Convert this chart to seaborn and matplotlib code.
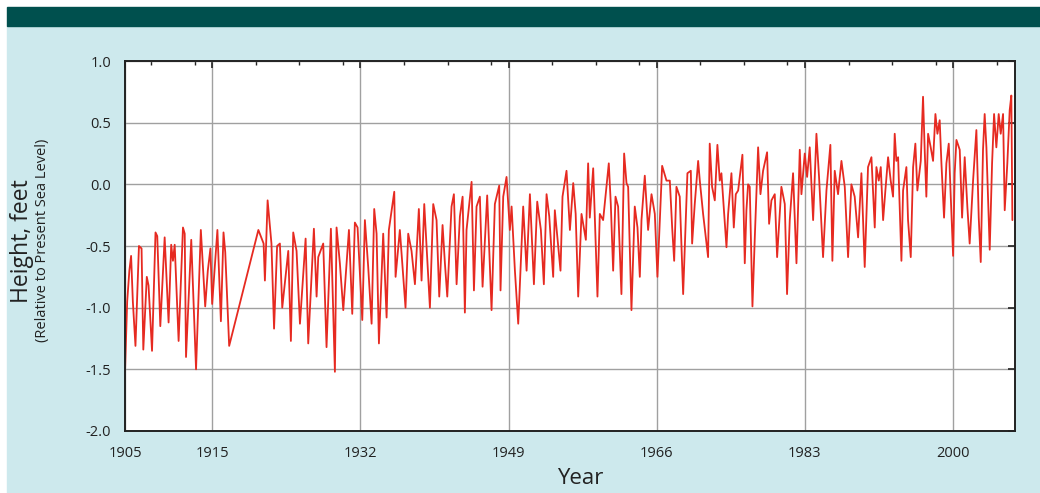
import pandas as pd
import matplotlib.pyplot as plt
import matplotlib.patches as mpatches
import seaborn as sns

# sea level readings (year, feet relative to present)
years = [
    1905.0, 1905.25, 1905.5, 1905.7, 1905.9, 1906.2, 1906.6, 1906.9, 1907.1, 1907.5,
    1907.7, 1908.1, 1908.5, 1908.7, 1909.05, 1909.55, 1910.0, 1910.3, 1910.5, 1910.7,
    1911.15, 1911.65, 1911.85, 1912.0, 1912.6, 1913.15, 1913.7, 1914.2, 1914.5, 1914.8,
    1915.0, 1915.6, 1916.0, 1916.3, 1916.5, 1916.95,
    1920.3, 1920.9, 1921.05, 1921.36, 1921.8, 1922.1, 1922.45,
    1922.77, 1923.04, 1923.73, 1924.03, 1924.3, 1924.68, 1925.07, 1925.72, 1926.02, 1926.67,
    1926.98, 1927.17, 1927.74, 1928.12, 1928.62, 1929.08, 1929.27, 1929.65, 1930.04, 1930.69,
    1931.07, 1931.37, 1931.68, 1932.22, 1932.52, 1932.9, 1933.29, 1933.59, 1933.86, 1934.13,
    1934.62, 1935.01, 1935.27, 1935.89, 1936.04, 1936.53, 1937.18, 1937.49, 1937.87, 1938.26,
    1938.71, 1939.02, 1939.33, 1939.98, 1940.36,
    1940.74, 1941.05, 1941.43, 1941.7, 1941.97, 1942.46, 1942.73, 1943.04, 1943.42, 1943.73,
    1943.99, 1944.18, 1944.76, 1945.03, 1945.33, 1945.71, 1946.02, 1946.55, 1947.05, 1947.43,
    1947.93, 1948.08, 1948.39, 1948.77, 1949.15, 1949.35, 1949.73, 1950.11, 1950.68, 1951.07,
    1951.45, 1951.91, 1952.29, 1952.71, 1953.05, 1953.36, 1953.67, 1954.12, 1954.31, 1954.96,
    1955.19, 1955.65, 1956.04, 1956.42, 1956.7, 1956.99, 1957.37, 1957.87,
    1958.13, 1958.32, 1958.71, 1959.2, 1959.47, 1959.85, 1960.12, 1960.5, 1960.73, 1961.0,
    1961.27, 1961.57, 1961.95, 1962.26, 1962.53, 1962.72, 1963.1, 1963.48, 1963.79, 1964.06,
    1964.25, 1964.63, 1965.01, 1965.4, 1965.78, 1966.08, 1966.35, 1966.62, 1967.12, 1967.5,
    1967.77, 1968.0, 1968.26, 1968.64, 1969.03, 1969.52, 1969.91, 1970.06, 1970.36, 1970.75,
    1970.94, 1971.32, 1971.89, 1972.08, 1972.35, 1972.66, 1972.96, 1973.23, 1973.42, 1974.0,
    1974.19, 1974.57,
    1974.84, 1975.07, 1975.34, 1975.83, 1976.1, 1976.29, 1976.48, 1976.67, 1976.98, 1977.25,
    1977.63, 1977.9, 1978.2, 1978.66, 1978.89, 1979.16, 1979.54, 1979.81, 1980.3, 1980.69,
    1980.95, 1981.26, 1981.64, 1982.03, 1982.41, 1982.6, 1982.98, 1983.25, 1983.55, 1983.94,
    1984.32, 1984.62, 1985.08, 1985.47, 1985.92, 1986.15, 1986.42, 1986.8, 1987.19, 1987.57,
    1987.95, 1988.33, 1988.71, 1989.1, 1989.48, 1989.86, 1990.24, 1990.63, 1991.01,
    1991.2, 1991.47, 1991.7, 1991.97, 1992.23, 1992.54, 1992.84, 1993.11, 1993.3, 1993.49,
    1993.69, 1994.07, 1994.26, 1994.64, 1994.83, 1995.14, 1995.41, 1995.67, 1995.9, 1996.29,
    1996.55, 1996.74, 1996.93, 1997.13, 1997.43, 1997.7, 1997.97, 1998.2, 1998.46, 1998.66,
    1998.96, 1999.23, 1999.5, 1999.73, 2000.0, 2000.18, 2000.38, 2000.76, 2001.03, 2001.33,
    2001.64, 2001.9, 2002.29, 2002.67, 2002.94, 2003.17, 2003.43, 2003.62, 2003.82, 2004.2,
    2004.47, 2004.7, 2004.96, 2005.23, 2005.46, 2005.73, 2005.92, 2006.22, 2006.49, 2006.68,
    2006.8,
]
height = [
    -1.52, -0.95, -0.70, -0.58, -0.95, -1.31, -0.50, -0.52, -1.34, -0.75,
    -0.82, -1.35, -0.39, -0.42, -1.15, -0.43, -1.12, -0.49, -0.62, -0.49,
    -1.27, -0.35, -0.40, -1.40, -0.45, -1.50, -0.37, -0.99, -0.70, -0.52,
    -0.97, -0.37, -1.11, -0.39, -0.55, -1.31,
    -0.37, -0.48, -0.78, -0.13, -0.48, -1.17, -0.50,
    -0.48, -1.00, -0.54, -1.27, -0.39, -0.54, -1.13, -0.44, -1.29, -0.36,
    -0.91, -0.59, -0.48, -1.32, -0.36, -1.52, -0.35, -0.64, -1.02, -0.37,
    -1.05, -0.31, -0.35, -1.10, -0.29, -0.67, -1.13, -0.20, -0.40, -1.29,
    -0.40, -1.08, -0.37, -0.06, -0.75, -0.37, -1.00, -0.40, -0.54, -0.81,
    -0.20, -0.78, -0.16, -1.00, -0.16,
    -0.29, -0.91, -0.33, -0.64, -0.91, -0.18, -0.08, -0.81, -0.26, -0.10,
    -1.04, -0.37, 0.02, -0.86, -0.18, -0.10, -0.83, -0.09, -1.02, -0.16,
    -0.01, -0.86, -0.10, 0.06, -0.37, -0.18, -0.70, -1.13, -0.18, -0.70,
    -0.08, -0.81, -0.14, -0.37, -0.81, -0.08, -0.26, -0.75, -0.21, -0.70,
    -0.10, 0.11, -0.37, 0.01, -0.24, -0.91, -0.24, -0.45,
    0.17, -0.27, 0.13, -0.91, -0.24, -0.29, -0.10, 0.17, -0.16, -0.70,
    -0.10, -0.18, -0.89, 0.25, 0.01, -0.02, -1.02, -0.18, -0.35, -0.75,
    -0.29, 0.07, -0.37, -0.08, -0.24, -0.75, -0.29, 0.15, 0.03, 0.03,
    -0.35, -0.62, -0.02, -0.10, -0.89, 0.09, 0.11, -0.48, -0.16, 0.19,
    0.03, -0.24, -0.59, 0.33, -0.02, -0.13, 0.32, 0.03, 0.09, -0.51,
    -0.24, 0.09,
    -0.35, -0.08, -0.05, 0.24, -0.64, -0.21, 0.00, -0.02, -0.99, -0.43,
    0.30, -0.08, 0.11, 0.26, -0.32, -0.13, -0.08, -0.59, -0.02, -0.16,
    -0.89, -0.29, 0.09, -0.64, 0.28, -0.08, 0.25, 0.06, 0.30, -0.29,
    0.41, 0.06, -0.59, -0.05, 0.32, -0.62, 0.11, -0.08, 0.19, -0.02,
    -0.59, 0.00, -0.10, -0.43, 0.09, -0.67, 0.14, 0.22, -0.35,
    0.14, 0.03, 0.14, -0.29, -0.05, 0.22, 0.03, -0.10, 0.41, 0.19,
    0.22, -0.62, -0.05, 0.14, -0.29, -0.59, 0.14, 0.33, -0.05, 0.19,
    0.71, 0.28, -0.10, 0.41, 0.30, 0.19, 0.57, 0.41, 0.52, 0.17,
    -0.27, 0.17, 0.33, -0.10, -0.58, 0.09, 0.36, 0.28, -0.27, 0.22,
    -0.19, -0.48, 0.03, 0.44, -0.27, -0.63, 0.28, 0.57, 0.30, -0.53,
    0.17, 0.57, 0.30, 0.57, 0.41, 0.57, -0.21, 0.17, 0.60, 0.72,
    -0.29,
]

major_years = [1905, 1915, 1932, 1949, 1966, 1983, 2000]
minor_years = [1908, 1913, 1920, 1925, 1930, 1937, 1942, 1947, 1954, 1959,
               1964, 1971, 1976, 1981, 1988, 1993, 1998, 2005]
y_ticks = [-2.0, -1.5, -1.0, -0.5, 0.0, 0.5, 1.0]

df = pd.DataFrame({"Year": years, "Height": height})

sns.set_style("white")
plt.rcParams["font.family"] = ["Open Sans", "DejaVu Sans"]
plt.rcParams["axes.unicode_minus"] = False

fig = plt.figure(figsize=(10.4, 4.93), dpi=100, facecolor="white")
W, H = 1040, 493
fig.patches.append(mpatches.Rectangle((7 / W, 0), 1 - 7 / W, (H - 26) / H,
                                      transform=fig.transFigure, color="#cde9ed", zorder=-2))
fig.patches.append(mpatches.Rectangle((7 / W, (H - 26) / H), 1 - 7 / W, 19 / H,
                                      transform=fig.transFigure, color="#00504e", zorder=-2))

ax = fig.add_axes([125 / W, 62 / H, 890 / W, 370 / H])
ax.set_facecolor("white")

sns.lineplot(data=df, x="Year", y="Height", ax=ax, sort=False, estimator=None,
             color="#e62a21", linewidth=1.3)

ax.set_xlim(1905, 2007.1)
ax.set_ylim(-2.0, 1.0)
ax.set_xticks(major_years)
ax.set_xticks(minor_years, minor=True)
ax.set_yticks(y_ticks)
ax.set_yticklabels([f"{v:.1f}" for v in y_ticks])
ax.grid(True, which="major", color="#a0a0a0", linewidth=1.0)
ax.set_axisbelow(True)

ax.tick_params(which="both", direction="in", top=True, right=True, colors="#222222",
               labelcolor="#222222", labelsize=10.5)
ax.tick_params(which="major", length=5, width=1.2)
ax.tick_params(which="minor", length=3, width=1.0)
ax.tick_params(axis="x", pad=11)
ax.tick_params(axis="y", pad=10)
for s in ax.spines.values():
    s.set_color("#222222")
    s.set_linewidth(1.4)

ax.set_xlabel("")
ax.set_ylabel("")
fig.text(580 / W, 14 / H, "Year", ha="center", va="center", fontsize=16, color="#222222")
fig.text(22 / W, (H - 241) / H, "Height, feet", rotation=90, ha="center", va="center",
         fontsize=16.5, color="#222222")
fig.text(43 / W, (H - 240) / H, "(Relative to Present Sea Level)", rotation=90,
         ha="center", va="center", fontsize=10.5, color="#222222")

fig.savefig("out.png", dpi=100, facecolor=fig.get_facecolor())
